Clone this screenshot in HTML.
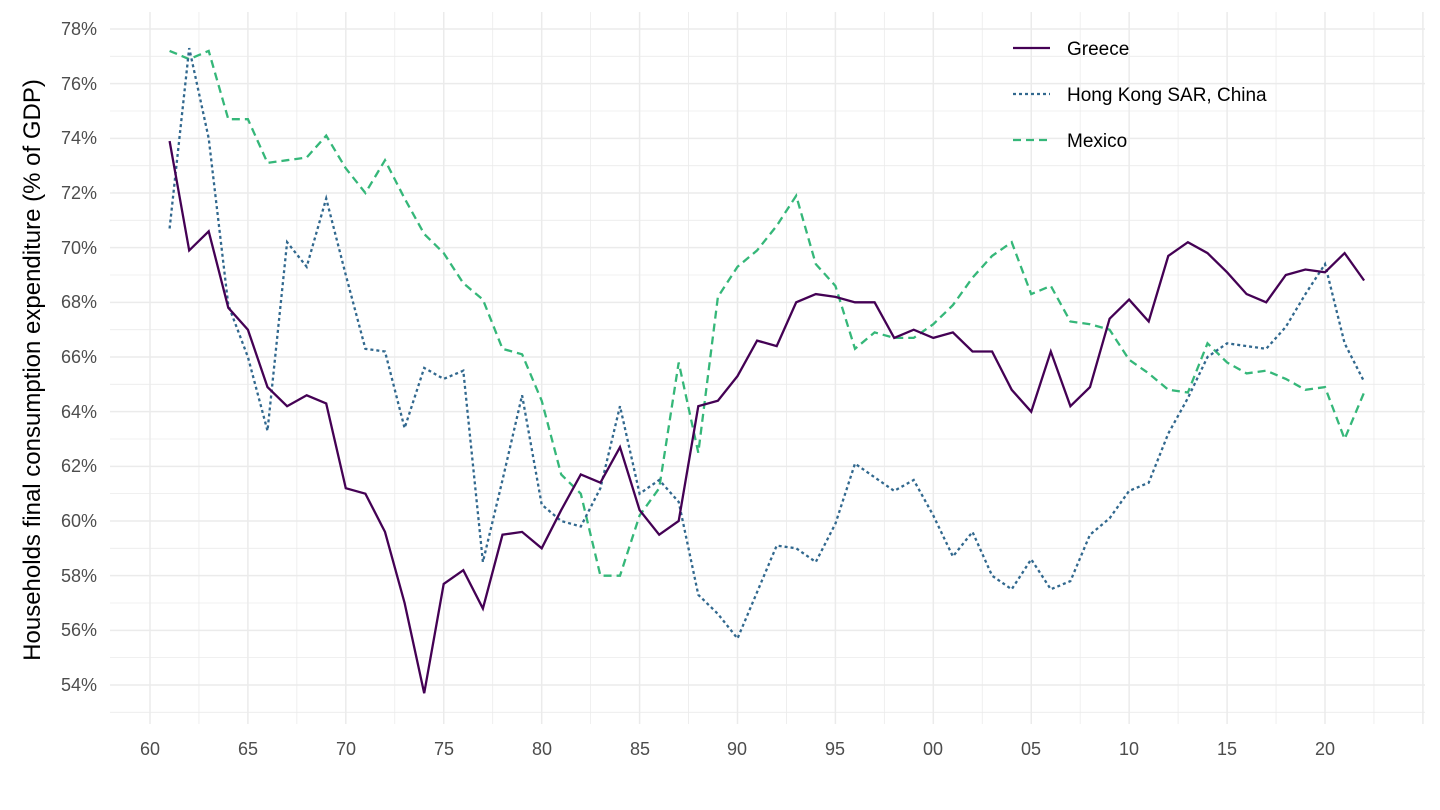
<!DOCTYPE html>
<html><head><meta charset="utf-8"><style>
html,body{margin:0;padding:0;background:#fff;}
svg{display:block;font-family:"Liberation Sans",Arial,sans-serif;}
</style></head><body>
<svg id="s" width="1440" height="810" viewBox="0 0 1440 810" xmlns="http://www.w3.org/2000/svg">
<g id="grid"></g>
<g fill="#4d4d4d" font-size="18" text-anchor="end">
<text x="97" y="35">78%</text><text x="97" y="90">76%</text><text x="97" y="144">74%</text>
<text x="97" y="199">72%</text><text x="97" y="254">70%</text><text x="97" y="308">68%</text>
<text x="97" y="363">66%</text><text x="97" y="418">64%</text><text x="97" y="472">62%</text>
<text x="97" y="527">60%</text><text x="97" y="582">58%</text><text x="97" y="636">56%</text>
<text x="97" y="691">54%</text>
</g>
<g fill="#4d4d4d" font-size="18" text-anchor="middle">
<text x="150" y="755">60</text><text x="248" y="755">65</text><text x="346" y="755">70</text>
<text x="444" y="755">75</text><text x="542" y="755">80</text><text x="640" y="755">85</text>
<text x="737" y="755">90</text><text x="835" y="755">95</text><text x="933" y="755">00</text>
<text x="1031" y="755">05</text><text x="1129" y="755">10</text><text x="1227" y="755">15</text>
<text x="1325" y="755">20</text>
</g>
<text transform="translate(40,370) rotate(-90)" text-anchor="middle" font-size="24" fill="#000">Households final consumption expenditure (% of GDP)</text>
<g id="lines" fill="none" stroke-width="2.3"></g>
<g font-size="19" fill="#000">
<line x1="1013" y1="48" x2="1050" y2="48" stroke="#440154" stroke-width="2.3"/>
<text x="1067" y="55">Greece</text>
<line x1="1013" y1="94" x2="1050" y2="94" stroke="#31688E" stroke-width="2.3" stroke-dasharray="3,3"/>
<text x="1067" y="101">Hong Kong SAR, China</text>
<line x1="1013" y1="140" x2="1050" y2="140" stroke="#35B779" stroke-width="2.3" stroke-dasharray="8,5"/>
<text x="1067" y="147">Mexico</text>
</g>
</svg>
<script>
var X=function(y){return 150+(y-1960)*19.583;};
var Y=function(v){return 29+(78-v)*27.333;};
var NS="http://www.w3.org/2000/svg";
var g=document.getElementById('grid');
function ln(x1,y1,x2,y2,c,w){var l=document.createElementNS(NS,'line');l.setAttribute('x1',x1);l.setAttribute('y1',y1);l.setAttribute('x2',x2);l.setAttribute('y2',y2);l.setAttribute('stroke',c);l.setAttribute('stroke-width',w);g.appendChild(l);}
for(var v=53;v<=79;v++){var y=Y(v);if(y<12||y>715)continue;ln(110,y,1425,y,'#ebebeb',v%2==0?1.5:0.8);}
for(var k=-1;k<=26;k++){var yr=1960+k*2.5;var x=X(yr);if(x<110||x>1425)continue;ln(x,12,x,724,'#ebebeb',k%2==0?1.5:0.8);}
var G=[73.9,69.9,70.6,67.8,67.0,64.9,64.2,64.6,64.3,61.2,61.0,59.6,57.0,53.7,57.7,58.2,56.8,59.5,59.6,59.0,60.4,61.7,61.4,62.7,60.4,59.5,60.0,64.2,64.4,65.3,66.6,66.4,68.0,68.3,68.2,68.0,68.0,66.7,67.0,66.7,66.9,66.2,66.2,64.8,64.0,66.2,64.2,64.9,67.4,68.1,67.3,69.7,70.2,69.8,69.1,68.3,68.0,69.0,69.2,69.1,69.8,68.8];
var H=[70.7,77.3,74.0,67.9,66.0,63.3,70.2,69.3,71.8,69.0,66.3,66.2,63.4,65.6,65.2,65.5,58.5,61.5,64.6,60.6,60.0,59.8,61.2,64.2,61.0,61.5,60.7,57.3,56.6,55.7,57.4,59.1,59.0,58.5,59.9,62.1,61.6,61.1,61.5,60.2,58.7,59.6,58.0,57.5,58.6,57.5,57.8,59.5,60.1,61.1,61.4,63.2,64.5,66.0,66.5,66.4,66.3,67.1,68.3,69.4,66.5,65.1];
var M=[77.2,76.9,77.2,74.7,74.7,73.1,73.2,73.3,74.1,72.9,72.0,73.2,71.8,70.5,69.8,68.7,68.1,66.3,66.1,64.4,61.7,61.0,58.0,58.0,60.2,61.2,65.8,62.5,68.2,69.3,69.9,70.8,71.9,69.4,68.6,66.3,66.9,66.7,66.7,67.2,67.9,68.9,69.7,70.2,68.3,68.6,67.3,67.2,67.0,65.9,65.4,64.8,64.7,66.5,65.8,65.4,65.5,65.2,64.8,64.9,63.0,64.7];
var L=document.getElementById('lines');
function pl(d,c,da){var p=document.createElementNS(NS,'polyline');p.setAttribute('points',d.map(function(v,i){return X(1961+i).toFixed(1)+','+Y(v).toFixed(1);}).join(' '));p.setAttribute('stroke',c);if(da)p.setAttribute('stroke-dasharray',da);L.appendChild(p);}
pl(M,'#35B779','8,5');pl(H,'#31688E','3,3');pl(G,'#440154',null);
</script>
</body></html>
